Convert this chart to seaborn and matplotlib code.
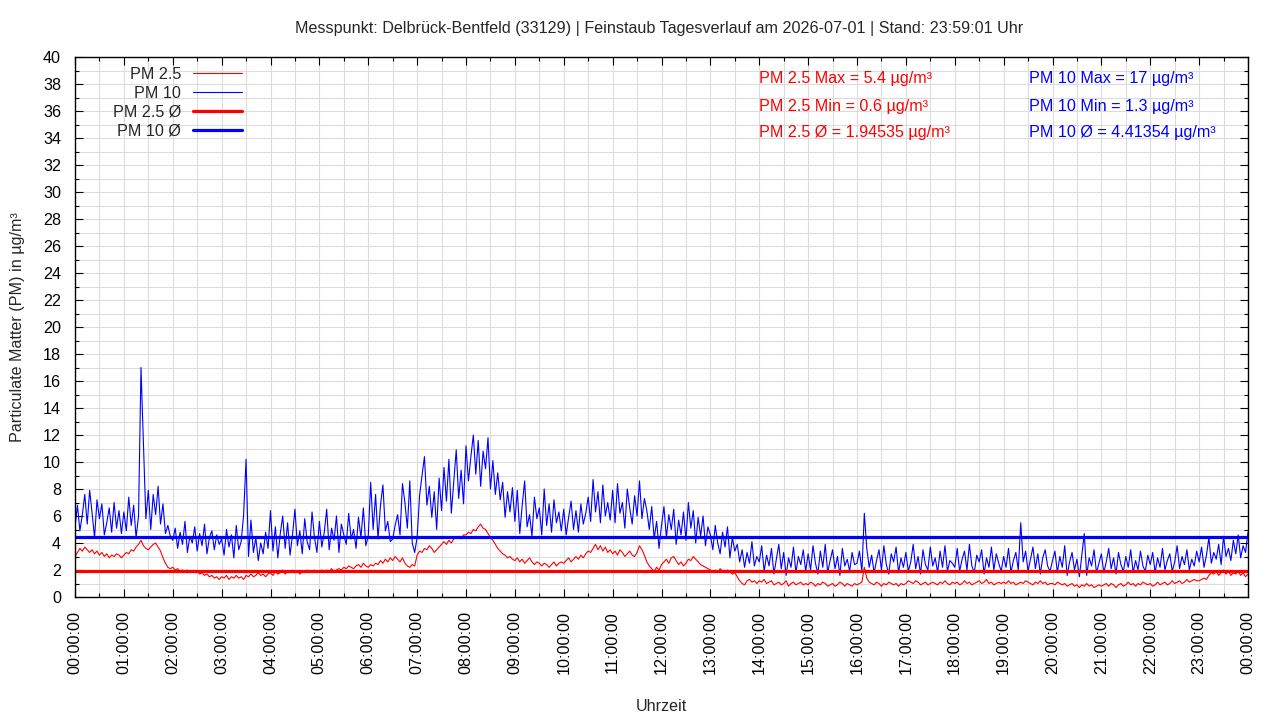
import numpy as np
import pandas as pd
import matplotlib
matplotlib.use("Agg")
import matplotlib.pyplot as plt
import seaborn as sns
from matplotlib.ticker import MultipleLocator

title = ("Messpunkt: Delbrück-Bentfeld (33129) | Feinstaub Tagesverlauf am 2026-07-01"
         " | Stand: 23:59:01 Uhr")

# PM 10 readings in 3 minute steps, one row per hour (hh:00 ... hh:57), last value is 24:00
pm10 = [
    5.2, 6.8, 4.9, 6.1, 7.6, 5.4, 7.9, 6.2, 4.4, 7.2, 5.8, 6.9, 4.6, 5.5, 6.6, 4.8, 7.0, 5.1, 6.4, 4.7,
    6.3, 4.9, 7.4, 5.3, 6.8, 4.4, 6.0, 17.0, 11.5, 5.8, 7.9, 5.0, 7.6, 6.1, 8.2, 5.4, 6.9, 4.7, 5.3, 4.5,
    4.2, 5.1, 3.6, 4.8, 3.9, 5.6, 3.3, 4.5, 4.0, 5.2, 3.4, 4.7, 3.8, 5.4, 3.2, 4.4, 4.9, 3.5, 4.6, 3.9,
    4.3, 3.1, 5.0, 3.7, 4.6, 2.9, 5.3, 3.5, 4.1, 6.1, 10.2, 3.0, 5.7, 3.3, 4.4, 2.7, 4.0, 3.2, 4.8, 3.6,
    6.4, 3.4, 5.2, 2.9, 4.7, 6.0, 3.6, 5.5, 3.1, 4.6, 6.5, 3.8, 4.9, 3.2, 5.8, 4.1, 3.5, 6.3, 4.4, 3.3,
    5.6, 3.7, 4.8, 6.5, 3.5, 5.1, 4.2, 6.0, 3.3, 5.4, 4.6, 3.9, 6.2, 4.3, 5.0, 3.6, 5.9, 4.4, 6.6, 3.8,
    4.5, 8.5, 5.0, 7.6, 4.3, 6.8, 8.3, 4.9, 5.6, 4.1, 4.3, 5.3, 6.1, 4.6, 8.4, 7.0, 5.1, 8.6, 4.0, 3.3,
    4.4, 7.5, 9.0, 10.4, 6.8, 8.2, 5.9, 7.8, 5.0, 8.8, 6.4, 9.6, 7.1, 10.2, 6.2, 8.5, 10.9, 7.3, 9.4, 6.9,
    11.2, 8.6, 10.4, 12.0, 9.1, 11.6, 8.2, 10.8, 9.5, 11.8, 8.0, 10.1, 7.6, 9.2, 7.2, 8.5, 5.9, 7.8, 6.3, 8.1,
    5.6, 7.9, 4.7, 6.8, 8.6, 5.2, 6.1, 4.5, 7.4, 5.8, 6.6, 4.6, 8.0, 5.3, 6.9, 4.8, 7.2, 5.5, 6.3, 4.9,
    6.5, 4.6, 5.9, 7.1, 5.0, 6.4, 4.8, 6.9, 5.4, 6.2, 7.4, 5.6, 8.7, 6.3, 7.8, 5.5, 8.3, 6.0, 7.0, 5.7,
    7.9, 5.5, 8.4, 6.2, 7.0, 5.1, 8.0, 6.6, 5.4, 7.5, 6.0, 8.6, 5.8, 7.3, 6.4, 5.0, 6.7, 4.3, 5.6, 3.6,
    5.3, 6.7, 4.4, 6.1, 5.0, 6.5, 3.9, 5.7, 4.6, 6.3, 4.2, 7.0, 5.1, 6.4, 4.0, 5.9, 4.5, 6.0, 3.8, 5.2,
    4.6, 3.5, 5.3, 4.0, 3.2, 4.8, 3.7, 5.2, 2.9, 4.4, 3.4, 3.9, 2.6, 3.5, 2.2, 3.3, 2.5, 4.1, 2.3, 3.0,
    2.6, 3.8, 1.9, 3.1, 2.3, 3.6, 1.7, 2.8, 3.9, 2.1, 3.3, 1.6, 2.9, 2.2, 3.7, 1.8, 3.0, 2.4, 3.5, 1.9,
    3.2, 2.0, 3.8, 2.5, 1.7, 3.4, 2.2, 3.9, 1.8, 2.7, 3.5, 2.1, 3.0, 1.6, 3.6, 2.3, 2.8, 1.9, 3.3, 2.4,
    2.5, 3.4, 1.9, 6.2, 3.6, 2.2, 3.1, 1.8, 2.7, 3.5, 2.0, 3.8, 2.4, 1.7, 3.2, 2.6, 3.7, 1.8, 2.9, 2.2,
    3.3, 1.9, 2.6, 3.9, 2.1, 3.0, 1.7, 3.5, 2.4, 2.0, 3.7, 2.3, 2.9, 1.8, 3.4, 2.2, 3.8, 1.9, 2.7, 2.5,
    2.2, 3.6, 1.9, 2.8, 3.4, 2.0, 3.9, 2.3, 1.8, 3.1, 2.6, 3.5, 1.7, 2.9, 2.2, 3.7, 2.0, 3.2, 2.5, 1.9,
    3.0, 2.2, 3.6, 1.8, 2.7, 3.3, 2.0, 5.5, 2.6, 3.4, 1.9, 2.8, 3.7, 2.1, 3.2, 1.7, 2.9, 3.5, 2.3, 1.9,
    2.7, 3.4, 1.8, 3.0, 2.2, 3.8, 1.6, 2.6, 3.3, 2.0, 2.8, 1.5, 3.1, 4.7, 1.6, 2.9, 2.3, 3.5, 1.8, 2.5,
    3.2, 1.8, 2.6, 3.6, 2.1, 2.9, 1.7, 3.3, 2.4, 1.9, 3.0, 2.2, 3.5, 1.8, 2.7, 2.0, 3.4, 2.3, 1.9, 3.1,
    2.4, 3.3, 1.8, 2.9, 2.2, 3.6, 2.0, 2.7, 3.2, 1.9, 2.6, 3.8, 2.1, 3.0, 2.4, 3.5, 2.0, 2.8, 2.3, 3.4,
    2.6, 3.7, 2.2, 3.1, 4.4, 2.5, 3.3, 2.8, 3.9, 2.4, 4.5, 3.0, 3.6, 2.7, 4.2, 3.2, 4.6, 2.9, 3.8, 3.3,
    4.8,
]

# PM 2.5 readings, same time steps
pm25 = [
    3.0, 3.3, 3.6, 3.4, 3.7, 3.5, 3.3, 3.5, 3.2, 3.4, 3.1, 3.3, 3.0, 3.2, 2.9, 3.1, 3.0, 3.2, 3.1, 2.9,
    3.1, 3.3, 3.2, 3.5, 3.4, 3.7, 3.9, 4.2, 3.8, 3.6, 3.5, 3.7, 3.9, 4.0, 3.7, 3.4, 2.9, 2.5, 2.2, 2.1,
    2.2, 2.0, 2.1, 1.9, 2.0, 1.9, 2.0, 1.8, 1.9, 1.8, 1.9, 1.7, 1.8, 1.6, 1.7, 1.5, 1.6, 1.4, 1.5, 1.3,
    1.5, 1.4, 1.6, 1.3, 1.5, 1.4, 1.6, 1.4, 1.5, 1.3, 1.6, 1.5, 1.7, 1.5, 1.6, 1.8, 1.6, 1.7, 1.5, 1.7,
    1.8, 1.6, 1.9, 1.7, 1.8, 2.0, 1.7, 1.9, 1.8, 2.0, 1.8, 1.9, 1.7, 1.9, 1.8, 2.0, 1.9, 1.8, 2.0, 1.9,
    1.9, 2.0, 1.8, 2.0, 1.9, 2.1, 1.9, 2.0, 2.1, 2.0, 2.2, 2.1, 2.3, 2.2, 2.1, 2.3, 2.4, 2.2, 2.5, 2.3,
    2.2, 2.4, 2.3, 2.5, 2.4, 2.7, 2.5, 2.8, 2.6, 2.9, 2.7, 3.0, 2.8, 2.6, 2.9, 2.5, 2.3, 2.2, 2.4, 2.3,
    3.1, 3.4, 3.3, 3.6, 3.5, 3.8, 3.6, 3.3, 3.5, 3.7, 3.9, 4.1, 3.9, 4.2, 4.0, 4.3, 4.4, 4.5, 4.3, 4.6,
    4.6, 4.8, 4.7, 5.0, 4.9, 5.2, 5.4, 5.1, 5.0, 4.7, 4.4, 4.2, 3.9, 3.6, 3.4, 3.2, 3.1, 2.9, 3.0, 2.8,
    2.7, 2.9, 2.6, 2.8, 2.5, 2.7, 2.9, 2.6, 2.4, 2.6, 2.5, 2.3, 2.5, 2.4, 2.2, 2.4, 2.6, 2.3, 2.5, 2.6,
    2.5, 2.7, 2.9, 2.6, 2.8, 3.0, 2.8, 3.1, 2.9, 3.2, 3.4, 3.3, 3.6, 3.9, 3.5, 3.8, 3.4, 3.7, 3.3, 3.5,
    3.2, 3.4, 3.1, 3.5, 3.3, 3.0, 3.2, 3.4, 3.1, 3.0, 3.3, 3.8, 3.5, 3.1, 2.6, 2.3, 2.1, 1.9, 2.2, 2.0,
    2.4, 2.6, 2.8, 2.5, 2.9, 3.0, 2.7, 2.4, 2.6, 2.3, 2.5, 2.8, 2.7, 3.0, 2.8, 2.6, 2.4, 2.3, 2.2, 2.1,
    2.0, 1.9, 2.0, 1.8, 2.1, 1.9, 1.8, 2.0, 1.9, 1.7, 1.8, 1.5, 1.2, 1.0, 0.9, 1.2, 1.3, 1.1, 1.2, 1.0,
    1.2, 1.1, 1.3, 1.0, 1.1, 1.2, 0.9, 1.0, 1.1, 0.9, 1.0, 1.2, 0.8, 1.0, 1.1, 0.9, 1.0, 1.1, 0.9, 1.0,
    0.9, 1.1, 1.0, 0.8, 1.0, 0.9, 1.1, 1.0, 0.8, 0.9, 1.0, 0.8, 0.9, 1.1, 1.0, 0.8, 1.0, 0.9, 0.8, 1.0,
    0.9, 1.0, 1.1, 2.2, 1.4, 1.1, 1.0, 0.9, 1.1, 1.0, 0.8, 1.0, 0.9, 1.1, 1.0, 0.9, 1.0, 0.8, 1.0, 0.9,
    1.0, 1.2, 1.1, 1.0, 1.2, 1.1, 0.9, 1.0, 1.1, 0.9, 1.0, 1.1, 1.0, 0.9, 1.1, 1.0, 1.2, 1.0, 0.9, 1.1,
    1.0, 1.1, 0.9, 1.0, 1.2, 1.0, 1.1, 0.9, 1.0, 1.1, 1.2, 1.0, 1.1, 1.3, 1.0, 1.1, 0.9, 1.0, 1.1, 1.0,
    1.1, 1.0, 1.2, 1.0, 1.1, 0.9, 1.0, 1.1, 1.0, 1.2, 1.1, 1.0, 0.9, 1.1, 1.0, 1.2, 1.0, 1.1, 0.9, 1.0,
    1.0, 0.9, 1.1, 1.0, 0.9, 1.0, 0.8, 0.9, 1.0, 0.8, 0.9, 0.7, 0.9, 0.8, 1.0, 0.8, 0.9, 0.7, 0.8, 0.9,
    0.8, 0.9, 1.0, 0.8, 1.0, 0.9, 0.7, 0.9, 1.0, 0.8, 0.9, 1.1, 0.9, 1.0, 0.8, 1.0, 0.9, 1.1, 1.0, 0.9,
    1.0, 0.8, 0.9, 1.1, 0.9, 1.0, 1.1, 0.9, 1.0, 1.2, 1.0, 1.1, 1.2, 1.0, 1.1, 1.3, 1.1, 1.2, 1.3, 1.2,
    1.2, 1.3, 1.4, 1.3, 1.6, 1.8, 1.7, 1.9, 1.6, 1.8, 2.0, 1.7, 1.9, 1.6, 1.8, 1.7, 1.9, 1.6, 1.8, 1.5,
    1.7,
]

pm25_mean = 1.94535
pm10_mean = 4.41354
pm25_max, pm25_min = 5.4, 0.6
pm10_max, pm10_min = 17, 1.3

hour_labels = [f"{h:02d}:00:00" for h in range(24)] + ["00:00:00"]

assert len(pm10) == 481 and len(pm25) == 481, (len(pm10), len(pm25))

df = pd.DataFrame({
    "hour": np.arange(len(pm10)) * 3 / 60.0,
    "pm25": pm25,
    "pm10": pm10,
})

sns.set_theme(style="ticks")
plt.rcParams["font.family"] = ["Liberation Sans", "DejaVu Sans"]
fs = 11.6

fig = plt.figure(figsize=(12.8, 7.2), dpi=100)
ax = fig.add_axes([75 / 1280, 1 - 597 / 720, 1173 / 1280, 540 / 720])

sns.lineplot(data=df, x="hour", y="pm25", color="#ff0000", lw=0.8, ax=ax, label="PM 2.5")
sns.lineplot(data=df, x="hour", y="pm10", color="#0000ff", lw=0.8, ax=ax, label="PM 10")
ax.axhline(pm25_mean, color="#ff0000", lw=2.3, label="PM 2.5 Ø")
ax.axhline(pm10_mean, color="#0000ff", lw=2.3, label="PM 10 Ø")

ax.set_xlim(0, 24)
ax.set_ylim(0, 40)
ax.set_xticks(range(25))
ax.set_xticklabels(hour_labels, rotation=90)
ax.xaxis.set_minor_locator(MultipleLocator(0.5))
ax.yaxis.set_major_locator(MultipleLocator(2))
ax.yaxis.set_minor_locator(MultipleLocator(1))
ax.tick_params(axis="both", which="both", direction="in", top=True, right=True,
               colors="black", labelsize=fs, width=0.8)
ax.tick_params(which="major", length=6)
ax.tick_params(which="minor", length=3)
ax.tick_params(axis="both", which="major", pad=10)
ax.grid(True, which="both", color="#dcdcdc", lw=0.8)
ax.set_axisbelow(True)
for s in ax.spines.values():
    s.set_color("black")
    s.set_linewidth(1.0)

ax.set_xlabel("Uhrzeit", fontsize=fs, labelpad=18)
ax.set_ylabel("Particulate Matter (PM) in µg/m³", fontsize=fs, labelpad=13)
fig.text(659 / 1280, 1 - 28 / 720, title, ha="center", va="center", fontsize=fs)

leg = ax.legend(loc="upper left", bbox_to_anchor=(0.024, 1.0), frameon=False,
                markerfirst=False, fontsize=fs, handlelength=3.05, handletextpad=0.75,
                labelspacing=0.24, borderaxespad=0.2)
for vp in leg._legend_handle_box.get_children():
    vp.align = "right"

red_txt = [f"PM 2.5 Max = {pm25_max} µg/m³", f"PM 2.5 Min = {pm25_min} µg/m³",
           f"PM 2.5 Ø = {pm25_mean} µg/m³"]
blue_txt = [f"PM 10 Max = {pm10_max} µg/m³", f"PM 10 Min = {pm10_min} µg/m³",
            f"PM 10 Ø = {pm10_mean} µg/m³"]
for i, (r, b) in enumerate(zip(red_txt, blue_txt)):
    yy = (597 - 79 - 27 * i) / 540
    ax.text(0.583, yy, r, color="#ff0000", fontsize=fs, va="center", transform=ax.transAxes)
    ax.text(0.813, yy, b, color="#0000ff", fontsize=fs, va="center", transform=ax.transAxes)

fig.savefig("out.png", dpi=100)
